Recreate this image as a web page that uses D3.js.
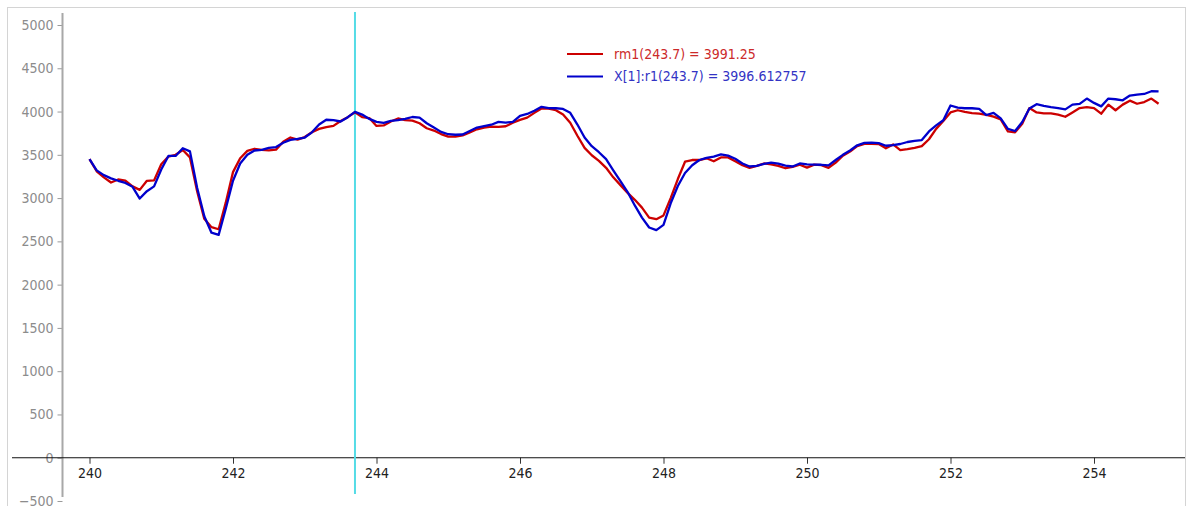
<!DOCTYPE html>
<html>
<head>
<meta charset="utf-8">
<script src="https://cdn.jsdelivr.net/npm/d3@7"></script>
<style>
  html, body { margin: 0; padding: 0; background: #fff; }
  svg { display: block; }
  text { font-family: "DejaVu Sans Condensed", "DejaVu Sans", sans-serif; }
</style>
</head>
<body>
<div id="chart"></div>
<script>
// sample positions (0.1 step, 240.0 .. 254.9)
const xValues = [
  240.0,240.1,240.2,240.3,240.4,240.5,240.6,240.7,240.8,240.9,
  241.0,241.1,241.2,241.3,241.4,241.5,241.6,241.7,241.8,241.9,
  242.0,242.1,242.2,242.3,242.4,242.5,242.6,242.7,242.8,242.9,
  243.0,243.1,243.2,243.3,243.4,243.5,243.6,243.7,243.8,243.9,
  244.0,244.1,244.2,244.3,244.4,244.5,244.6,244.7,244.8,244.9,
  245.0,245.1,245.2,245.3,245.4,245.5,245.6,245.7,245.8,245.9,
  246.0,246.1,246.2,246.3,246.4,246.5,246.6,246.7,246.8,246.9,
  247.0,247.1,247.2,247.3,247.4,247.5,247.6,247.7,247.8,247.9,
  248.0,248.1,248.2,248.3,248.4,248.5,248.6,248.7,248.8,248.9,
  249.0,249.1,249.2,249.3,249.4,249.5,249.6,249.7,249.8,249.9,
  250.0,250.1,250.2,250.3,250.4,250.5,250.6,250.7,250.8,250.9,
  251.0,251.1,251.2,251.3,251.4,251.5,251.6,251.7,251.8,251.9,
  252.0,252.1,252.2,252.3,252.4,252.5,252.6,252.7,252.8,252.9,
  253.0,253.1,253.2,253.3,253.4,253.5,253.6,253.7,253.8,253.9,
  254.0,254.1,254.2,254.3,254.4,254.5,254.6,254.7,254.8,254.9
];

// rm1 (red)
const rm1Values = [
  3450,3310,3240,3180,3215,3202,3135,3095,3200,3205,
  3390,3480,3500,3556,3470,3080,2760,2664,2640,2950,
  3300,3460,3545,3570,3556,3552,3560,3650,3700,3675,
  3705,3760,3800,3820,3834,3890,3935,3991,3935,3925,
  3834,3840,3885,3920,3900,3895,3865,3807,3780,3740,
  3711,3710,3725,3760,3795,3815,3826,3822,3830,3870,
  3903,3930,3985,4035,4035,4015,3965,3870,3720,3580,
  3495,3430,3350,3240,3150,3060,2980,2890,2775,2756,
  2800,3000,3220,3420,3440,3440,3460,3425,3470,3470,
  3425,3380,3350,3372,3400,3390,3372,3345,3360,3385,
  3352,3387,3380,3350,3410,3490,3537,3600,3626,3628,
  3625,3575,3620,3555,3565,3580,3600,3680,3800,3890,
  3990,4015,3995,3982,3975,3962,3941,3910,3770,3760,
  3860,4040,3990,3980,3980,3965,3940,3990,4040,4050,
  4040,3975,4080,4015,4080,4126,4090,4110,4150,4090
];

// X[1]:r1 (blue)
const r1Values = [
  3450,3320,3265,3228,3200,3175,3130,2995,3080,3135,
  3330,3487,3487,3576,3540,3120,2790,2600,2575,2880,
  3200,3400,3500,3550,3556,3580,3590,3640,3672,3685,
  3700,3760,3850,3905,3900,3885,3935,3997,3965,3915,
  3880,3870,3892,3900,3915,3937,3930,3865,3815,3765,
  3738,3732,3735,3775,3815,3832,3848,3880,3872,3880,
  3950,3972,4010,4055,4040,4038,4030,3985,3850,3700,
  3600,3530,3450,3320,3195,3070,2915,2775,2660,2630,
  2690,2940,3140,3290,3380,3440,3465,3480,3505,3490,
  3455,3400,3365,3372,3395,3410,3398,3375,3365,3400,
  3390,3387,3385,3378,3440,3500,3550,3610,3637,3640,
  3635,3605,3612,3625,3648,3660,3670,3770,3840,3900,
  4070,4045,4038,4038,4030,3960,3985,3920,3800,3775,
  3880,4035,4085,4065,4050,4040,4025,4080,4088,4150,
  4100,4060,4150,4142,4130,4185,4195,4203,4235,4232
];

const xTicks = [240, 242, 244, 246, 248, 250, 252, 254];
const yTicks = [-500, 0, 500, 1000, 1500, 2000, 2500, 3000, 3500, 4000, 4500, 5000];

const cursorX = 243.7;
const legendItems = [
  { label: 'rm1(243.7) = 3991.25', line: '#cc0000', text: '#cc2a2a' },
  { label: 'X[1]:r1(243.7) = 3996.612757', line: '#0000cc', text: '#3333c4' }
];

const width = 1193, height = 506;

const svg = d3.select('#chart').append('svg')
  .attr('width', width)
  .attr('height', height);

// outer frame
svg.append('rect')
  .attr('x', 7.5).attr('y', 7.5)
  .attr('width', 1178).attr('height', 520)
  .attr('fill', 'none')
  .attr('stroke', '#d4d4d4');

const x = d3.scaleLinear().domain([240, 254]).range([89.5, 1094]);
const y = d3.scaleLinear().domain([-500, 5000]).range([501, 25]);

// y axis
const yAxis = d3.axisLeft(y)
  .tickValues(yTicks)
  .tickFormat(d3.format('d'))
  .tickSize(5).tickPadding(4).tickSizeOuter(0);
const gy = svg.append('g').attr('transform', 'translate(62.5,0)').call(yAxis);
gy.select('.domain').remove();
gy.selectAll('.tick line').attr('stroke', '#9a9a9a');
gy.selectAll('.tick text')
  .attr('fill', '#8c8c8c')
  .attr('font-size', '14px');
gy.append('line')
  .attr('x1', 0).attr('x2', 0)
  .attr('y1', 13).attr('y2', 497)
  .attr('stroke', '#a8a8a8')
  .attr('stroke-width', 2);

// x axis at zero
const xAxis = d3.axisBottom(x).tickValues(xTicks).tickSize(6).tickPadding(4).tickSizeOuter(0);
const gx = svg.append('g').attr('transform', `translate(0,${y(0)})`).call(xAxis);
gx.select('.domain').remove();
gx.selectAll('.tick line').attr('stroke', '#333');
gx.selectAll('.tick text')
  .attr('fill', '#222')
  .attr('font-size', '14px');
gx.append('line')
  .attr('x1', 12).attr('x2', 1185)
  .attr('y1', 0).attr('y2', 0)
  .attr('stroke', '#111')
  .attr('stroke-width', 1.2);

// cursor
svg.append('line')
  .attr('x1', x(cursorX)).attr('x2', x(cursorX))
  .attr('y1', 12).attr('y2', 494)
  .attr('stroke', '#55dce6')
  .attr('stroke-width', 2);

// series
const line = d3.line()
  .x((d, i) => x(xValues[i]))
  .y(d => y(d));

svg.append('path')
  .datum(rm1Values)
  .attr('d', line)
  .attr('fill', 'none')
  .attr('stroke', '#cc0000')
  .attr('stroke-width', 2.3)
  .attr('stroke-linejoin', 'round');

svg.append('path')
  .datum(r1Values)
  .attr('d', line)
  .attr('fill', 'none')
  .attr('stroke', '#0000cc')
  .attr('stroke-width', 2.3)
  .attr('stroke-linejoin', 'round');

// legend
const legend = svg.append('g').attr('transform', 'translate(567,54)');
legendItems.forEach((item, i) => {
  const g = legend.append('g').attr('transform', `translate(0,${i * 22.5})`);
  g.append('line')
    .attr('x1', 0).attr('x2', 36)
    .attr('y1', 0).attr('y2', 0)
    .attr('stroke', item.line)
    .attr('stroke-width', 2);
  g.append('text')
    .attr('x', 47).attr('y', 0)
    .attr('dy', '0.35em')
    .attr('fill', item.text)
    .attr('font-size', '14px')
    .text(item.label);
});
</script>
</body>
</html>
